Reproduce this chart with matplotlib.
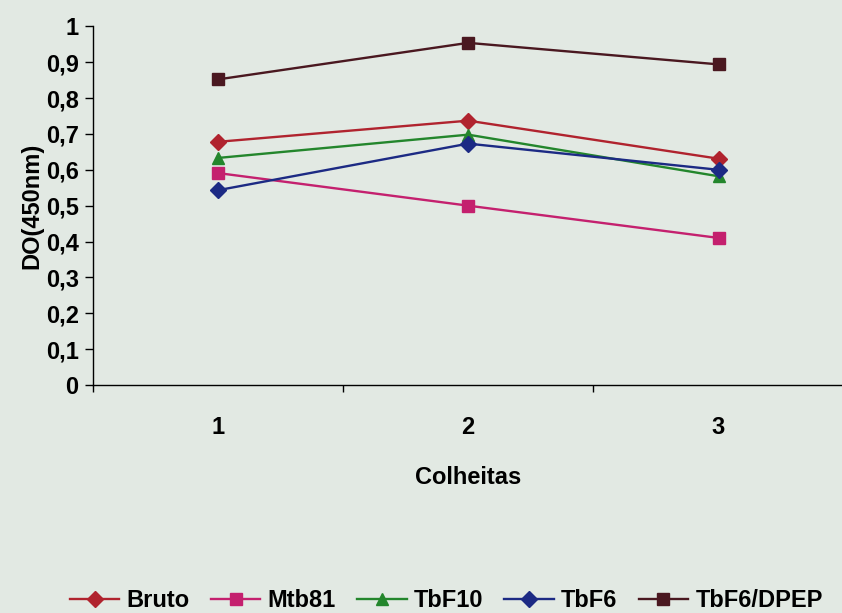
import matplotlib
matplotlib.use("Agg")
import matplotlib.pyplot as plt
from matplotlib.ticker import FuncFormatter

plt.rcParams['font.family'] = ['Liberation Sans Narrow', 'Liberation Sans', 'DejaVu Sans']
plt.rcParams['font.weight'] = 'bold'

# data
colheitas = [1, 2, 3]
bruto = [0.678, 0.737, 0.631]
mtb81 = [0.591, 0.500, 0.410]
tbf10 = [0.633, 0.698, 0.582]
tbf6 = [0.543, 0.673, 0.600]
tbf6_dpep = [0.852, 0.954, 0.894]

nomes = ['Bruto', 'Mtb81', 'TbF10', 'TbF6', 'TbF6/DPEP']
series = [bruto, mtb81, tbf10, tbf6, tbf6_dpep]
cores = ['#b0232e', '#c4206e', '#23862c', '#1c2a84', '#4a1820']
marcas = ['D', 's', '^', 'D', 's']
tamanhos = [8, 8, 9, 8, 8.5]

bg = '#e2e9e3'
fig = plt.figure(figsize=(8.42, 6.13), dpi=100, facecolor=bg)
ax = fig.add_axes([0.110, 0.372, 0.892, 0.585], facecolor=bg)

for nome, ys, c, m, s in zip(nomes, series, cores, marcas, tamanhos):
    ax.plot(colheitas, ys, color=c, marker=m, markersize=s, linewidth=1.7,
            markeredgecolor=c, label=nome)

ax.set_xlim(0.5, 3.5)
ax.set_ylim(0, 1)
ax.set_yticks([i / 10 for i in range(11)])
ax.yaxis.set_major_formatter(FuncFormatter(lambda v, p: ('%g' % round(v, 1)).replace('.', ',')))
ax.set_xticks(colheitas)
ax.set_xticks([0.5, 1.5, 2.5, 3.5], minor=True)
ax.tick_params(axis='x', which='major', length=0, pad=22, labelsize=17)
ax.tick_params(axis='x', which='minor', length=5, direction='out', width=1)
ax.tick_params(axis='y', length=6, direction='out', width=1, labelsize=17, pad=4)

for side in ['top', 'right']:
    ax.spines[side].set_visible(False)
ax.spines['left'].set_linewidth(1)
ax.spines['bottom'].set_linewidth(1)

ax.set_xlabel('Colheitas', fontsize=17, fontweight='bold', labelpad=20)
ax.set_ylabel('DO(450nm)', fontsize=17, fontweight='bold', labelpad=2)

fig.legend(loc='lower center', bbox_to_anchor=(0.53, -0.033), ncol=5, frameon=False,
           handlelength=2.1, columnspacing=0.9, handletextpad=0.3,
           prop={'weight': 'bold', 'size': 17})

fig.savefig('out.png', dpi=100, facecolor=bg)
